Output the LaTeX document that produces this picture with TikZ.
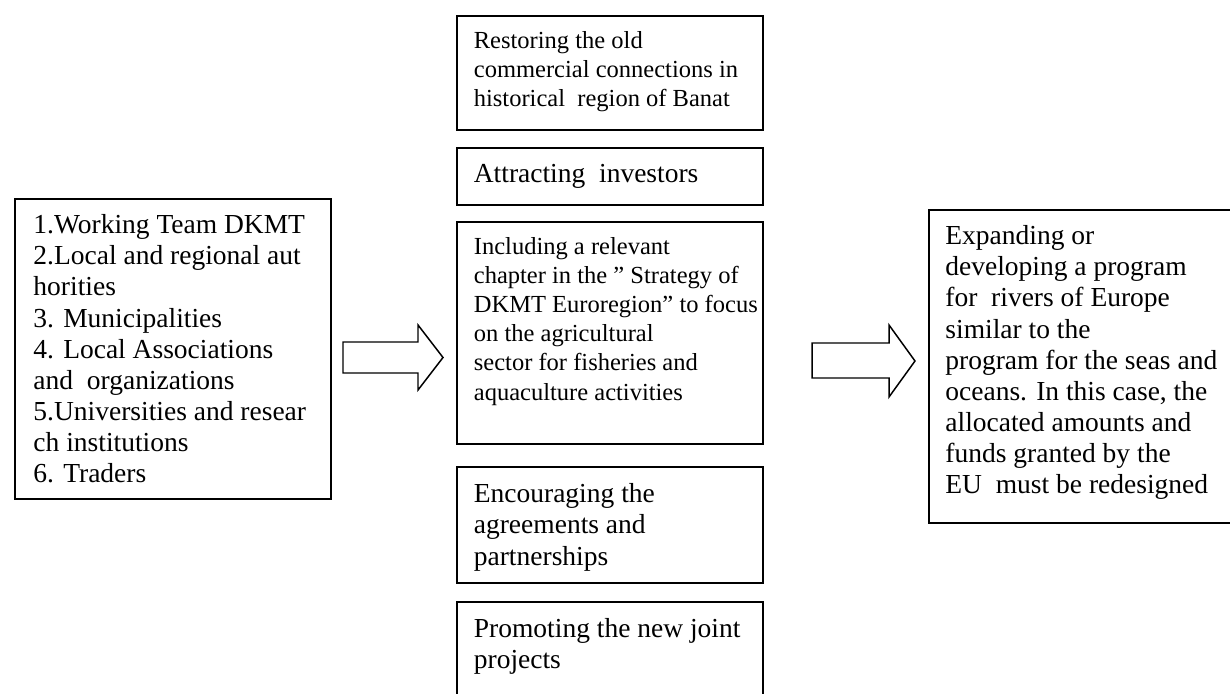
\documentclass[tikz,border=0pt]{standalone}
\usepackage{fontspec}
\setmainfont{Liberation Serif}
\usetikzlibrary{positioning}

\begin{document}
\begin{tikzpicture}[x=0.4364pt, y=-0.4364pt,
    panel/.style={draw, line width=0.85pt, inner sep=0pt, anchor=north west, minimum width=133.5pt},
    paneltext/.style={inner sep=0pt, align=left, font=\fontsize{12pt}{13.6pt}\selectfont},
    smalltext/.style={paneltext, font=\fontsize{10.7pt}{12.7pt}\selectfont},
    blockarrow/.style={draw, line width=0.65pt, line join=miter}]
    \useasboundingbox (0,0) rectangle (1230,694);
    \clip (0,0) rectangle (1230,694);

    % actors
    \node[panel, minimum width=137.9pt, minimum height=131pt] (actors) at (14,198) {};
    \node[paneltext, below right=7pt and 8.3pt of actors.north west] (actorstxt)
        {1.Working Team DKMT\\2.Local and regional aut\\horities\\3. Municipalities\\4. Local Associations\\and~ organizations\\5.Universities and resear\\ch institutions\\6. Traders};

    % measures
    \node[panel, minimum height=49.7pt] (restore) at (456,15) {};
    \node[panel, minimum height=24.9pt] (attract) at (456,147) {};
    \node[panel, minimum height=96.9pt] (strategy) at (456,221) {};
    \node[panel, minimum height=50.6pt] (agree) at (456,466) {};
    \node[panel, minimum height=48pt] (promote) at (456,601) {};

    \node[smalltext, below right=7pt and 7.6pt of restore.north west] (restoretxt)
        {Restoring the old\\commercial connections in\\historical~ region of Banat};
    \node[paneltext, below right=7.5pt and 7.6pt of attract.north west] (attracttxt)
        {Attracting~ investors};
    \node[smalltext, below right=7pt and 7.6pt of strategy.north west] (strategytxt)
        {Including a relevant\\chapter in the ” Strategy of\\DKMT Euroregion" to focus\\on the agricultural\\sector for fisheries and\\aquaculture activities};
    \node[paneltext, below right=7.5pt and 7.6pt of agree.north west] (agreetxt)
        {Encouraging the\\agreements and\\partnerships};
    \node[paneltext, below right=7.5pt and 7.6pt of promote.north west] (promotetxt)
        {Promoting the new joint\\projects};

    % result
    \node[panel, minimum width=136.2pt, minimum height=136.6pt] (result) at (928,209) {};
    \node[paneltext, below right=7pt and 7.4pt of result.north west] (resulttxt)
        {Expanding or\\developing a program\\for~ rivers of Europe\\similar to the\\program for the seas and\\oceans. In this case, the\\allocated amounts and\\funds granted by the\\EU~ must be redesigned};

    % block arrows
    \draw[blockarrow] (343,342) -- (418,342) -- (418,325) -- (443,357.5)
        -- (418,390) -- (418,373) -- (343,373) -- cycle;
    \draw[blockarrow] (812,343) -- (889,343) -- (889,325) -- (915,361)
        -- (889,397) -- (889,378) -- (812,378) -- cycle;
\end{tikzpicture}
\end{document}
